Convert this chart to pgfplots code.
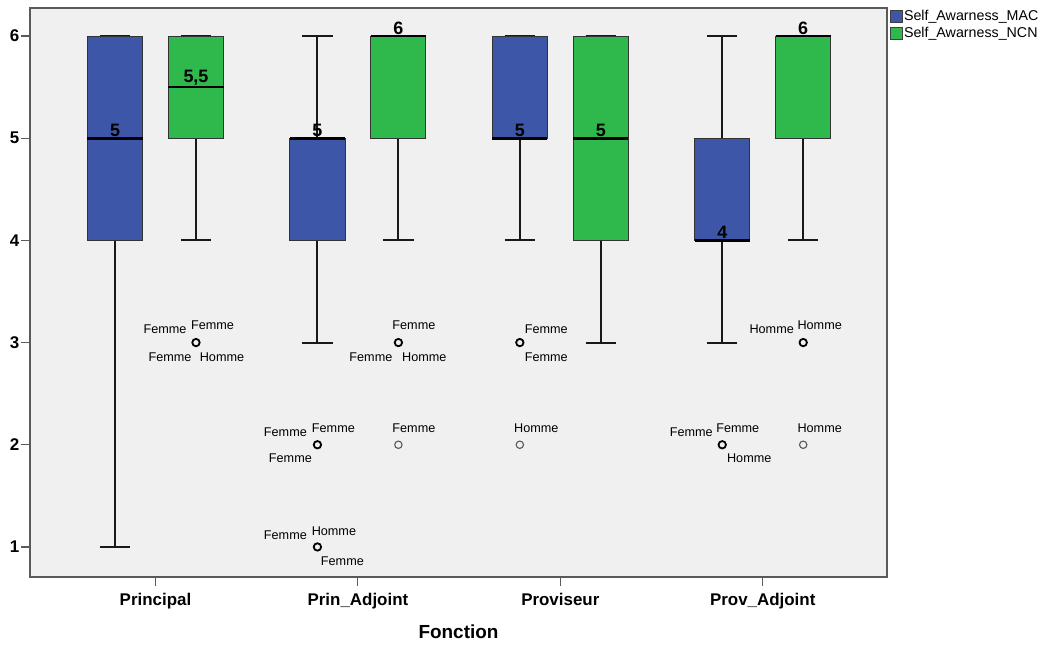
\documentclass[border=0pt]{standalone}
\usepackage{fontspec}
\setmainfont{Liberation Sans}
\usepackage{pgfplots}
\pgfplotsset{compat=1.18}
\usepgfplotslibrary{statistics}
\definecolor{mac}{HTML}{3D56A8}
\definecolor{ncn}{HTML}{2FB84B}
\definecolor{bgc}{HTML}{F0F0F0}
\definecolor{frm}{HTML}{5A5A5A}
% box: color, position, lw, lq, med, uq, uw
\newcommand{\bx}[7]{%
  \addplot[forget plot, fill=#1, draw=black!80, line width=0.9bp,
    boxplot prepared={draw position=#2, lower whisker=#3, lower quartile=#4,
      median=#5, upper quartile=#6, upper whisker=#7,
      box extend=0.272, whisker extend=0.15}] coordinates {};
  \node[font=\bfseries\fontsize{18}{18}\selectfont, anchor=south, inner sep=1.5bp]
    at (axis cs:#2,#5) {\pgfmathprintnumber[use comma,precision=1]{#5}};
}
\newcommand{\lab}[5]{%
  \node[font=\fontsize{12.7}{13}\selectfont, inner sep=0pt, anchor=center,
    xshift=#3bp, yshift=-#4bp] at (axis cs:#1,#2) {#5};
}
\begin{document}
\begin{tikzpicture}
\path[use as bounding box] (0bp,0bp) rectangle (1048bp,646bp);
\begin{axis}[at={(30bp,69bp)}, anchor=south west, scale only axis,
  width=857bp, height=569bp,
  xmin=-0.620, xmax=3.614, ymin=0.706, ymax=6.274,
  xtick={0,1,2,3},
  xticklabels={Principal,Prin\_Adjoint,Proviseur,Prov\_Adjoint},
  ytick={1,2,3,4,5,6},
  xtick pos=left, ytick pos=left,
  tick align=outside, major tick length=9bp,
  axis background/.style={fill=bgc},
  axis line style={draw=frm, line width=1.4bp},
  tick style={draw=frm, line width=1.1bp},
  /pgf/number format/assume math mode=true,
  ticklabel style={font=\bfseries\fontsize{17}{17}\selectfont},
  yticklabel style={inner sep=1.5bp},
  xticklabel style={inner sep=2bp, yshift=-5bp},
  xlabel={Fonction},
  xlabel style={font=\bfseries\fontsize{19}{19}\selectfont,
    at={(axis description cs:0.5,0)}, anchor=base, yshift=-61bp},
  clip=false,
  boxplot/draw direction=y,
  boxplot/every median/.style={draw=black, line width=2.8bp},
  boxplot/every whisker/.style={draw=black!90, line width=2bp},
  legend style={at={(1,1)}, anchor=north west, xshift=2bp, yshift=0bp,
    draw=none, fill=none, inner sep=1bp, row sep=3.5bp,
    font=\fontsize{14.3}{15}\selectfont,
    nodes={inner sep=1bp}},
  legend cell align=left,
  legend image code/.code={\draw[#1, draw=black!75, line width=0.8bp] (0bp,-6bp) rectangle (12bp,6bp);},
]
% Principal
\bx{mac}{-0.2}{1}{4}{5}{6}{6}
\bx{ncn}{0.2}{4}{5}{5.5}{6}{6}
% Prin_Adjoint
\bx{mac}{0.8}{3}{4}{5}{5}{6}
\bx{ncn}{1.2}{4}{5}{6}{6}{6}
% Proviseur
\bx{mac}{1.8}{4}{5}{5}{6}{6}
\bx{ncn}{2.2}{3}{4}{5}{6}{6}
% Prov_Adjoint
\bx{mac}{2.8}{3}{4}{4}{5}{6}
\bx{ncn}{3.2}{4}{5}{6}{6}{6}

% outliers (several cases)
\addplot[forget plot, only marks, mark=o, mark size=3.7bp,
  mark options={draw=black, line width=1.8bp}]
  coordinates {(0.2,3) (0.8,2) (0.8,1) (1.2,3) (1.8,3) (2.8,2) (3.2,3)};
% outliers (single case)
\addplot[forget plot, only marks, mark=o, mark size=3.7bp,
  mark options={draw=black!65, line width=1.1bp}]
  coordinates {(1.2,2) (1.8,2) (3.2,2)};

% labels
\lab{0.2}{3}{-31}{-13.5}{Femme}
\lab{0.2}{3}{16.5}{-17.5}{Femme}
\lab{0.2}{3}{-26}{14.5}{Femme}
\lab{0.2}{3}{26}{14.5}{Homme}

\lab{0.8}{2}{-32}{-13}{Femme}
\lab{0.8}{2}{16}{-17}{Femme}
\lab{0.8}{2}{-27}{13}{Femme}

\lab{0.8}{1}{-32}{-12}{Femme}
\lab{0.8}{1}{16.5}{-16}{Homme}
\lab{0.8}{1}{25}{14}{Femme}

\lab{1.2}{3}{15.5}{-17}{Femme}
\lab{1.2}{3}{-27.5}{15}{Femme}
\lab{1.2}{3}{26}{15}{Homme}
\lab{1.2}{2}{15.5}{-17}{Femme}

\lab{1.8}{3}{26.5}{-13}{Femme}
\lab{1.8}{3}{26.5}{15}{Femme}
\lab{1.8}{2}{16.5}{-17}{Homme}

\lab{2.8}{2}{-31}{-13}{Femme}
\lab{2.8}{2}{15.5}{-17}{Femme}
\lab{2.8}{2}{27}{13}{Homme}

\lab{3.2}{3}{-31.5}{-13.5}{Homme}
\lab{3.2}{3}{16.5}{-17.5}{Homme}
\lab{3.2}{2}{16.5}{-17}{Homme}

\addlegendimage{fill=mac}
\addlegendentry{Self\_Awarness\_MAC}
\addlegendimage{fill=ncn}
\addlegendentry{Self\_Awarness\_NCN}
\end{axis}
\end{tikzpicture}
\end{document}
